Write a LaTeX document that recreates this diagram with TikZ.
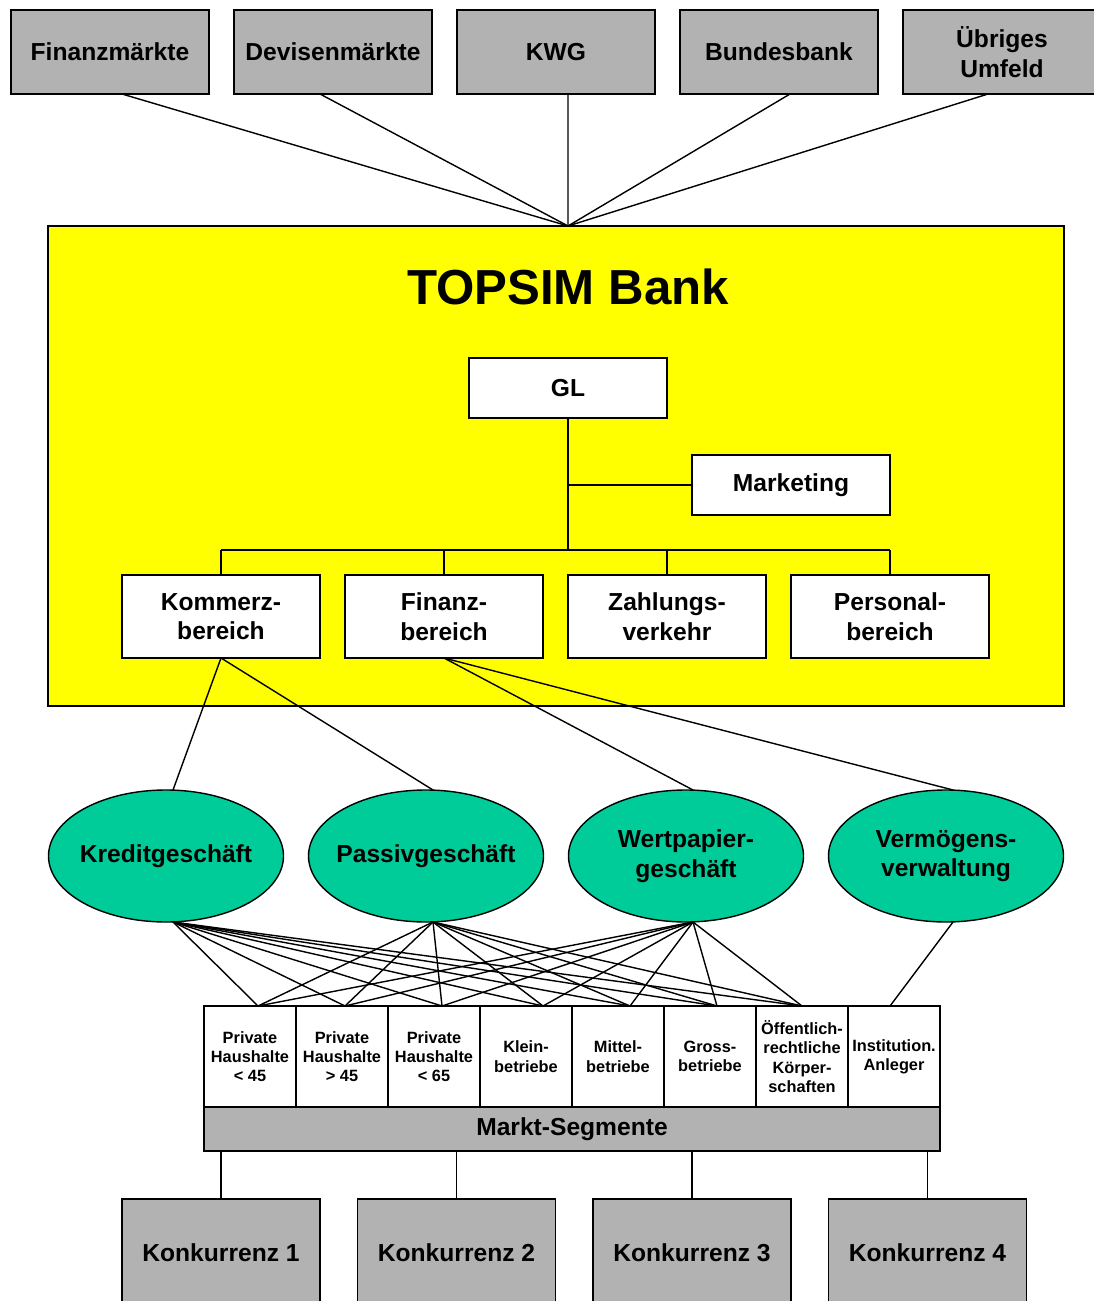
\documentclass[tikz,border=0pt]{standalone}
\usepackage{fontspec}
\setmainfont{Liberation Sans}
\usetikzlibrary{positioning,shapes.geometric,calc}
\definecolor{umfeldgrau}{RGB}{178,178,178}
\definecolor{bankgelb}{RGB}{255,255,0}
\definecolor{geschaeftgruen}{RGB}{0,204,153}

\begin{document}
\begin{tikzpicture}[
	thick,
	node distance = 5mm,
	every node/.style = {
		font = \bfseries\fontsize{14}{16.8}\selectfont,
		align = center,
		outer sep = 0pt
	},
	umfeld/.style = {
		draw,
		fill = umfeldgrau,
		minimum width = 3.96cm,
		minimum height = 1.68cm,
		inner sep = 0pt
	},
	leitung/.style = {
		draw,
		fill = white,
		minimum width = 3.96cm,
		minimum height = 1.2cm,
		inner sep = 0pt
	},
	bereich/.style = {
		draw,
		fill = white,
		minimum width = 3.96cm,
		minimum height = 1.66cm,
		inner sep = 0pt
	},
	geschaeft/.style = {
		draw,
		ellipse,
		fill = geschaeftgruen,
		minimum width = 4.7cm,
		minimum height = 2.64cm,
		inner xsep = -5mm,
		inner ysep = 0pt
	},
	segment/.style = {
		draw,
		fill = white,
		minimum width = 1.84cm,
		minimum height = 2.02cm,
		inner sep = 0pt,
		font = \bfseries\fontsize{9.3}{11}\selectfont
	},
	konkurrenz/.style = {
		draw,
		fill = umfeldgrau,
		minimum width = 3.96cm,
		minimum height = 2.16cm,
		inner sep = 0pt
	}
	]
	
	\useasboundingbox (0,0) rectangle (21.86,-26.02);
	
	\node (umfeld_1) [umfeld] at (2.2,-1.04) {Finanzmärkte};
	\node (umfeld_2) [umfeld, right = of umfeld_1] {Devisenmärkte};
	\node (umfeld_3) [umfeld, right = of umfeld_2] {KWG};
	\node (umfeld_4) [umfeld, right = of umfeld_3] {Bundesbank};
	\node (umfeld_5) [umfeld, right = of umfeld_4] {Übriges\\Umfeld};
	
	\node (bank) [draw, fill=bankgelb, minimum width=20.32cm, minimum height=9.6cm, inner sep=0pt] at (11.12,-9.32) {};
	\node (bank_title) [font=\bfseries\fontsize{28}{32}\selectfont] at (11.36,-5.74) {TOPSIM Bank};
	\node (gl) [leitung] at (11.36,-7.76) {GL};
	\node (marketing) [leitung, below right = 0.74cm and 0.5cm of gl] {Marketing};
	
	\coordinate (bank_top) at (bank.north -| gl.north);
	\foreach \i/\dx in {1/0.24,2/-0.26,3/0.24,4/0.22,5/-0.28}
		\draw ([xshift=\dx cm]umfeld_\i.south) -- (bank_top);
	
	\node (bereich_1) [bereich] at (4.42,-12.33) {Kommerz-\\bereich};
	\node (bereich_2) [bereich, right = of bereich_1] {Finanz-\\bereich};
	\node (bereich_3) [bereich, right = of bereich_2] {Zahlungs-\\verkehr};
	\node (bereich_4) [bereich, right = of bereich_3] {Personal-\\bereich};
	
	\draw (gl.south) -- ([yshift=5mm]gl.south |- bereich_1.north);
	\draw (marketing.west) -- (marketing.west -| gl.south);
	\draw ([yshift=5mm]bereich_1.north) -- ([yshift=5mm]bereich_4.north);
	\foreach \i in {1,...,4}
		\draw (bereich_\i.north) -- +(0,5mm);
	
	\node (geschaeft_1) [geschaeft] at (3.32,-17.12) {Kreditgeschäft};
	\node (geschaeft_2) [geschaeft, right = of geschaeft_1] {Passivgeschäft};
	\node (geschaeft_3) [geschaeft, right = of geschaeft_2] {Wertpapier-\\geschäft};
	\node (geschaeft_4) [geschaeft, right = of geschaeft_3] {Vermögens-\\verwaltung};
	
	\draw (bereich_1.south) -- ([xshift=1.4mm]geschaeft_1.north);
	\draw (bereich_1.south) -- ([xshift=1.4mm]geschaeft_2.north);
	\draw (bereich_2.south) -- ([xshift=1.4mm]geschaeft_3.north);
	\draw (bereich_2.south) -- ([xshift=1.4mm]geschaeft_4.north);
	
	\node (segment_1) [segment] at (5.0,-21.13) {Private\\Haushalte\\< 45};
	\node (segment_2) [segment, right = 0mm of segment_1] {Private\\Haushalte\\> 45};
	\node (segment_3) [segment, right = 0mm of segment_2] {Private\\Haushalte\\< 65};
	\node (segment_4) [segment, right = 0mm of segment_3] {Klein-\\betriebe};
	\node (segment_5) [segment, right = 0mm of segment_4] {Mittel-\\betriebe};
	\node (segment_6) [segment, right = 0mm of segment_5] {Gross-\\betriebe};
	\node (segment_7) [segment, right = 0mm of segment_6] {Öffentlich-\\rechtliche\\Körper-\\schaften};
	\node (segment_8) [segment, right = 0mm of segment_7] {Institution.\\Anleger};
	\node (markt) [draw, fill=umfeldgrau, minimum width=14.72cm, minimum height=0.88cm, inner sep=0pt, anchor=north west] at (segment_1.south west) {Markt-Segmente};
	
	\foreach \i/\dx in {1/0.16,2/0.06,3/0.16,4/0.34,5/0.24,6/0.14,7/0,8/-0.08}
		\coordinate (segment_top_\i) at ([xshift=\dx cm]segment_\i.north);
	\foreach \g in {1,2,3}
		\foreach \i in {1,...,7}
			\draw ([xshift=1.4mm]geschaeft_\g.south) -- (segment_top_\i);
	\draw ([xshift=1.4mm]geschaeft_4.south) -- (segment_top_8);
	
	\node (konkurrenz_1) [konkurrenz] at (4.42,-25.06) {Konkurrenz 1};
	\node (konkurrenz_2) [konkurrenz, right = 7.5mm of konkurrenz_1] {Konkurrenz 2};
	\node (konkurrenz_3) [konkurrenz, right = 7.5mm of konkurrenz_2] {Konkurrenz 3};
	\node (konkurrenz_4) [konkurrenz, right = 7.5mm of konkurrenz_3] {Konkurrenz 4};
	\foreach \i in {1,...,4}
		\draw (konkurrenz_\i.north) -- (konkurrenz_\i.north |- markt.south);
	
\end{tikzpicture}
\end{document}
